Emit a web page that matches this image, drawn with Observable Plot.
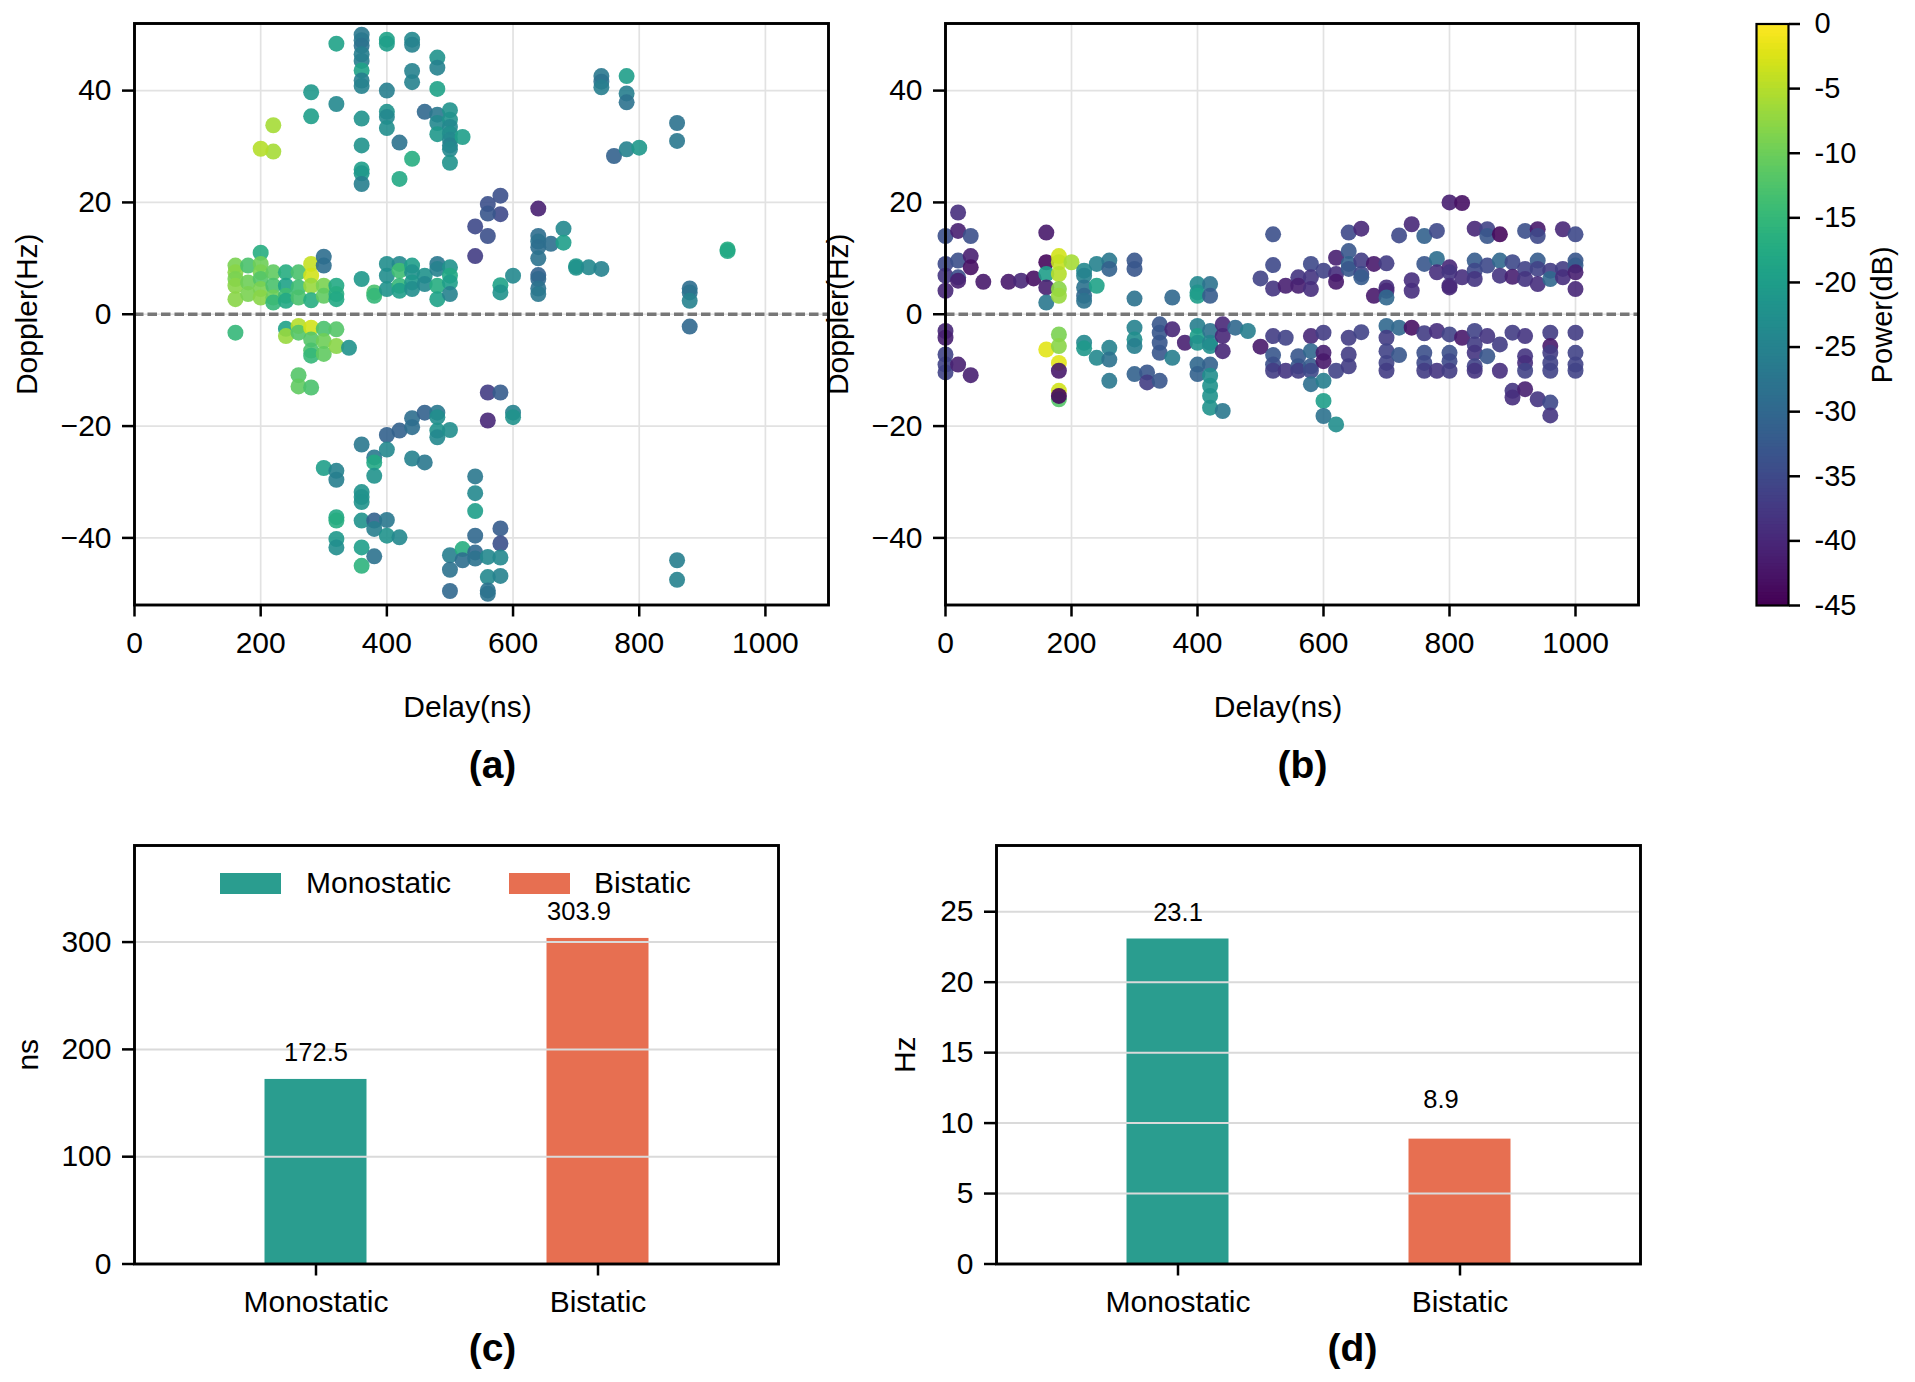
<!DOCTYPE html>
<html>
<head>
<meta charset="utf-8">
<script src="https://cdn.jsdelivr.net/npm/d3@7"></script>
<script src="https://cdn.jsdelivr.net/npm/@observablehq/plot@0.6"></script>
<style>
  html, body { margin: 0; padding: 0; background: white; }
  #fig { position: relative; width: 1915px; height: 1382px; background: white; overflow: hidden;
         font-family: 'Liberation Sans', Arial, Helvetica, sans-serif; }
  #fig svg { position: absolute; overflow: visible; max-width: none; }
  .leg { position: absolute; font-size: 30px; line-height: 30px; white-space: nowrap; color: black; }
  .sw { position: absolute; width: 61px; height: 21px; }
</style>
</head>
<body>
<div id="fig"></div>
<script>
// ---------- data ----------
const delayTicks = [0, 200, 400, 600, 800, 1000];
const dopplerTicks = [-40, -20, 0, 20, 40];
const powerTicks = [0, -5, -10, -15, -20, -25, -30, -35, -40, -45];
const methods = ["Monostatic", "Bistatic"];
const methodColors = ["#2a9d8f", "#e76f51"];
const delaySpread = [172.5, 303.9];   // ns
const dopplerSpread = [23.1, 8.9];    // Hz

// [delay (ns), doppler (Hz), power (dB)]
const monoPoints = [
  [320,48.4,-19],
  [360,50,-27],[360,49,-27],[360,48,-28],[360,46.5,-26],[360,45.3,-26],[360,43.6,-19],[360,41.8,-26],[360,40.8,-25],
  [360,35,-22],[360,30.2,-22],[360,25.9,-20],[360,25.2,-21],[360,23.3,-26],
  [400,49.1,-19],[400,48.4,-20],[400,40,-26],[400,36.2,-22],[400,35.3,-24],[400,33.3,-23],
  [440,49.1,-24],[440,48.2,-25],[440,43.5,-25],[440,41.5,-25],[440,27.8,-17],
  [420,30.7,-28],[420,24.2,-18],
  [280,39.7,-21],[280,35.4,-20],[320,37.6,-24],
  [220,33.8,-6],[220,29.1,-6],[200,29.6,-5],
  [460,36.2,-30],
  [480,45.9,-22],[480,44.1,-25],[480,40.3,-19],[480,35.7,-27],[480,34.2,-24],[480,32.2,-21],
  [500,36.5,-22],[500,34.8,-22],[500,33.5,-24],[500,32.3,-23],[500,31.2,-24],[500,30.2,-25],[500,29.5,-24],[500,27.1,-22],
  [520,31.7,-20],
  [580,21.2,-34],[580,17.9,-35],[560,19.7,-34],[560,18,-33],[560,14,-34],[540,15.7,-35],[540,10.4,-37],
  [640,18.9,-41],
  [640,14,-29],[640,13,-28],[640,12,-29],[640,10,-28],[640,7,-31],[640,6.3,-30],[640,4.6,-28],[640,3.6,-27],
  [660,12.6,-29],[680,15.3,-24],[680,12.8,-20],
  [700,8.6,-21],[700,8.3,-22],[720,8.4,-24],[740,8.1,-25],
  [740,42.6,-27],[740,41.6,-28],[740,40.6,-26],
  [780,42.6,-20],[780,39.5,-26],[780,37.9,-28],
  [760,28.3,-31],[780,29.5,-25],[800,29.8,-21],
  [860,34.2,-28],[860,31,-27],
  [940,11.6,-17],[940,11.3,-18],
  [880,4.6,-29],[880,3.9,-28],[880,2.4,-25],[880,-2.2,-30],
  [860,-44,-26],[860,-47.5,-25],
  [600,6.9,-24],[580,5.2,-19],[580,3.9,-22],
  [200,11,-17],
  [160,8.7,-9],[160,7.5,-8],[160,6.3,-9],[160,5.1,-8],[160,2.7,-8],
  [180,8.7,-13],[180,5.7,-10],[180,3.6,-9],
  [200,9,-10],[200,7.5,-9],[200,6.3,-12],[200,4.5,-9],[200,3,-8],
  [220,7.5,-11],[220,5.1,-13],[220,3,-10],[220,2.1,-15],
  [240,7.5,-17],[240,5.1,-19],[240,3.3,-14],[240,2.4,-18],
  [260,7.5,-13],[260,4.8,-14],[260,3,-13],
  [280,9,-4],[280,6.9,-3],[280,5.1,-7],[280,2.5,-17],
  [300,10.3,-29],[300,8.7,-29],[300,5.1,-9],[300,3.3,-11],
  [320,5.1,-18],[320,3.6,-17],[320,2.7,-18],
  [360,6.3,-21],[380,3.9,-13],[380,3.3,-15],
  [400,9,-23],[400,6.9,-23],[400,4.5,-22],
  [420,9,-24],[420,7.8,-14],[420,5.1,-15],[420,4.2,-20],
  [440,8.7,-20],[440,7.5,-22],[440,5.7,-21],[440,4.5,-23],
  [460,6.9,-22],[460,5.4,-24],
  [480,9,-27],[480,8.1,-25],[480,5.1,-17],[480,2.7,-19],
  [500,8.4,-22],[500,6.9,-18],[500,5.7,-20],[500,3.6,-25],
  [160,-3.3,-15],
  [240,-2.6,-19],[240,-3.9,-7],
  [260,-2.1,-5],[260,-3.3,-12],[260,-10.9,-12],[260,-12.9,-11],
  [280,-2.4,-3],[280,-4.5,-12],[280,-6.5,-13],[280,-7.4,-15],[280,-13.1,-13],
  [300,-2.6,-13],[300,-4.8,-10],[300,-7.1,-11],
  [320,-2.7,-12],[320,-5.7,-8],
  [340,-6,-22],
  [300,-27.5,-20],
  [320,-28,-25],[320,-29.6,-26],[320,-36.3,-18],[320,-36.9,-17],[320,-40.2,-21],[320,-41.7,-23],
  [360,-23.3,-27],[360,-31.8,-22],[360,-32.7,-22],[360,-33.6,-22],[360,-36.9,-22],[360,-41.7,-20],[360,-45,-16],
  [380,-25.6,-27],[380,-26.5,-18],[380,-28.9,-22],[380,-36.9,-31],[380,-38.4,-26],[380,-43.3,-28],
  [400,-21.6,-31],[400,-24.2,-24],[400,-36.8,-27],[400,-39.6,-22],
  [420,-20.8,-31],[420,-39.9,-24],
  [440,-18.6,-29],[440,-20.2,-29],[440,-25.8,-25],
  [460,-17.6,-31],[460,-26.5,-27],
  [480,-17.6,-27],[480,-18.4,-23],[480,-20.8,-22],[480,-22,-24],
  [500,-20.7,-23],[500,-43.1,-26],[500,-45.7,-28],[500,-49.5,-30],
  [520,-42,-17],[520,-44,-29],
  [540,-29,-27],[540,-32,-24],[540,-35.2,-20],[540,-39.6,-30],[540,-42.6,-30],[540,-43.7,-28],
  [560,-14,-37],[560,-19,-40],[560,-43.4,-24],[560,-47,-24],[560,-49.4,-28],[560,-50,-28],
  [580,-14,-32],[580,-38.3,-32],[580,-41,-34],[580,-43.5,-24],[580,-46.8,-25],
  [600,-17.6,-25],[600,-18.4,-22]
];

const biPoints = [
  [0,14,-34],[0,9,-35],[0,6.9,-38],[0,4.2,-40],[0,-3,-40],[0,-4.2,-41],[0,-7.2,-36],[0,-9,-36],[0,-10.4,-36],
  [20,18.2,-39],[20,14.9,-41],[20,9.6,-34],[20,6.6,-34],[20,6,-41],[20,-9,-41],
  [40,14,-34],[40,10.4,-41],[40,8.4,-43],[40,-10.9,-41],
  [60,5.8,-42],[100,5.8,-42],[120,6,-40],[140,6.4,-43],
  [160,14.6,-42],[160,9.3,-44],[160,7.2,-20],[160,4.8,-41],[160,2.1,-27],[160,-6.3,-2],
  [180,10.4,-3],[180,9.3,-4],[180,7.2,-5],[180,4.5,-8],[180,3.3,-7],[180,-3.6,-9],[180,-5.7,-8],[180,-8.7,-2],
  [180,-10.1,-42],[180,-13.7,-3],[180,-15.2,-12],[180,-14.6,-44],
  [200,9.3,-6],
  [220,7.8,-24],[220,6.9,-25],[220,4.8,-28],[220,3.3,-30],[220,2.4,-28],[220,-5.1,-24],[220,-6.1,-21],
  [240,9,-25],[240,5.1,-19],[240,-7.8,-24],
  [260,9.6,-27],[260,8.1,-31],[260,-6,-25],[260,-8.1,-28],[260,-11.9,-27],
  [300,9.6,-33],[300,8.1,-33],[300,2.8,-28],[300,-2.4,-25],[300,-4.5,-23],[300,-5.7,-26],[300,-10.7,-31],
  [320,-10.4,-33],[320,-12.2,-37],
  [340,-1.8,-33],[340,-3.3,-33],[340,-5.1,-33],[340,-6.9,-33],[340,-11.9,-33],
  [360,3,-30],[360,-2.7,-40],[360,-7.8,-26],
  [380,-5.1,-41],
  [400,5.4,-24],[400,3.9,-22],[400,3.3,-20],[400,-2.1,-26],[400,-3.9,-20],[400,-5.1,-22],[400,-9,-30],[400,-10.7,-31],
  [420,5.4,-28],[420,3.3,-32],[420,-3,-28],[420,-5.1,-25],[420,-5.7,-23],[420,-9,-31],[420,-11,-23],[420,-12.8,-22],[420,-14.6,-22],[420,-16.7,-22],
  [440,-1.8,-40],[440,-3.9,-40],[440,-6.6,-40],[440,-17.3,-27],
  [460,-2.4,-30],[480,-3,-26],
  [500,6.4,-36],[500,-5.8,-42],
  [520,14.3,-34],[520,8.8,-35],[520,4.6,-38],[520,-3.9,-37],[520,-7.3,-33],[520,-9,-34],[520,-10.1,-37],
  [540,5.1,-41],[540,-4.2,-36],[540,-10.1,-38],
  [560,6.6,-38],[560,5.1,-41],[560,-7.5,-33],[560,-9.3,-33],[560,-10.1,-37],
  [580,9,-35],[580,6.6,-38],[580,4.5,-39],[580,-3.9,-40],[580,-6.6,-30],[580,-9.3,-32],[580,-10.1,-35],[580,-12.5,-29],
  [600,7.8,-36],[600,-3.3,-37],[600,-6.9,-41],[600,-8.4,-42],[600,-11.9,-26],[600,-15.5,-20],[600,-18.2,-28],
  [620,10.1,-41],[620,7.2,-39],[620,5.8,-42],[620,-10.1,-36],[620,-19.7,-23],
  [640,14.6,-35],[640,11.3,-33],[640,9,-31],[640,8.1,-33],[640,-4.2,-37],[640,-7.2,-37],[640,-9.3,-37],
  [660,15.3,-40],[660,9.6,-37],[660,7.2,-35],[660,6.6,-32],[660,-3.2,-36],
  [680,9,-42],[680,3.3,-42],
  [700,9.1,-37],[700,4.8,-39],[700,4.2,-40],[700,3,-30],[700,-2.1,-30],[700,-4.2,-37],[700,-6.6,-36],[700,-8.7,-36],[700,-10.1,-37],
  [720,14.1,-35],[720,-2.4,-30],[720,-7.3,-33],
  [740,16.1,-40],[740,6.1,-39],[740,4.2,-39],[740,-2.4,-43],
  [760,14,-31],[760,9,-33],[760,-3.4,-37],[760,-6.9,-34],[760,-8.7,-35],[760,-10.1,-37],
  [780,14.9,-35],[780,9.9,-29],[780,7.5,-39],[780,-3,-39],[780,-10.1,-38],
  [800,20,-41],[800,8.4,-40],[800,7.5,-38],[800,5.1,-39],[800,4.8,-40],[800,-3.6,-36],[800,-6.9,-34],[800,-8.4,-35],[800,-10.1,-37],
  [820,19.9,-43],[820,6.6,-39],[820,-4.2,-42],
  [840,15.3,-40],[840,9.6,-32],[840,7.8,-35],[840,6.3,-38],[840,-3,-36],[840,-5.4,-37],[840,-6.9,-38],[840,-9.3,-36],[840,-10.1,-38],
  [860,15.2,-36],[860,14,-33],[860,8.7,-35],[860,-3.9,-38],[860,-7.5,-33],
  [880,14.3,-44],[880,9.6,-30],[880,6.9,-38],[880,-5.4,-37],[880,-10.1,-39],
  [900,9.3,-35],[900,6.7,-41],[900,-3.3,-37],[900,-13.7,-38],[900,-14.9,-39],
  [920,14.9,-34],[920,8.1,-36],[920,6.3,-38],[920,-3.9,-38],[920,-7.5,-38],[920,-8.7,-39],[920,-10.1,-36],[920,-13.4,-41],
  [940,15.2,-42],[940,14,-35],[940,9.6,-32],[940,8.1,-36],[940,5.4,-39],[940,-15.2,-38],
  [960,7.8,-37],[960,6.3,-30],[960,-3.3,-37],[960,-5.7,-42],[960,-6.9,-37],[960,-8.7,-36],[960,-10.1,-36],[960,-15.8,-35],[960,-18.1,-38],
  [980,15.2,-40],[980,8.1,-37],[980,6.6,-39],
  [1000,14.3,-35],[1000,9.6,-33],[1000,8.7,-32],[1000,7.5,-41],[1000,4.5,-40],[1000,-3.3,-37],[1000,-6.9,-36],[1000,-9,-36],[1000,-10.1,-36]
];

// ---------- drawing ----------
const FONT = "'Liberation Sans', Arial, Helvetica, sans-serif";
const fig = document.getElementById("fig");
const powerColor = {type: "linear", scheme: "viridis", domain: [-45, 0]};
const numFmt = d3.format("d");   // "1000", "−40"

function place(svg, left, top) {
  svg.style.position = "absolute";
  svg.style.left = left + "px";
  svg.style.top = top + "px";
  svg.style.fontFamily = FONT;
  svg.style.fontSize = "30px";
  svg.style.color = "black";
  svg.style.background = "transparent";
  svg.style.overflow = "visible";
  fig.appendChild(svg);
}

function label(txt, opts) {
  return Plot.text([txt], {text: d => d, textAnchor: "middle", lineAnchor: "middle", fill: "black", fontSize: 30, ...opts});
}

function scatterPanel(points, {left, marginLeft, marginRight, tag, tagDx}) {
  const rows = points.map(([delay, doppler, power]) => ({delay, doppler, power}));
  const svg = Plot.plot({
    width: 880, height: 800,
    marginLeft, marginRight, marginTop: 23, marginBottom: 195.5,
    x: {domain: [0, 1100]},
    y: {domain: [-52, 52]},
    color: powerColor,
    marks: [
      Plot.gridX({ticks: delayTicks, stroke: "#e2e2e2", strokeOpacity: 1, strokeWidth: 1.7}),
      Plot.gridY({ticks: dopplerTicks, stroke: "#e2e2e2", strokeOpacity: 1, strokeWidth: 1.7}),
      Plot.dot(rows, {x: "delay", y: "doppler", fill: "power", r: 8, fillOpacity: 0.9, stroke: null}),
      Plot.ruleY([0], {stroke: "#777777", strokeWidth: 3.4, strokeDasharray: "9.5,4"}),
      Plot.axisX({ticks: delayTicks, tickFormat: numFmt, tickSize: 12, tickPadding: 15, strokeWidth: 2.5, label: null, fontSize: 30}),
      Plot.axisY({ticks: dopplerTicks, tickFormat: numFmt, tickSize: 12, tickPadding: 11, strokeWidth: 2.5, label: null, fontSize: 30}),
      Plot.frame({stroke: "black", strokeWidth: 2.9}),
      label("Delay(ns)", {frameAnchor: "bottom", dy: 102.5, dx: -14}),
      label("Doppler(Hz)", {frameAnchor: "left", dx: -107, rotate: -90}),
      label(tag, {frameAnchor: "bottom", dy: 160.5, dx: tagDx, fontSize: 39, fontWeight: "bold"})
    ]
  });
  place(svg, left, 0);
}

scatterPanel(monoPoints, {left: 0, marginLeft: 134, marginRight: 52, tag: "(a)", tagDx: 11});
scatterPanel(biPoints, {left: 820, marginLeft: 125, marginRight: 62, tag: "(b)", tagDx: 10.5});

// colorbar
const steps = d3.range(-45, 0, 0.25);
const cbar = Plot.plot({
  width: 215, height: 700,
  marginLeft: 56, marginRight: 127, marginTop: 23.5, marginBottom: 95,
  x: {domain: [0, 1], axis: null},
  y: {domain: [-45, 0]},
  color: powerColor,
  marks: [
    Plot.rect(steps, {x1: 0, x2: 1, y1: d => d, y2: d => Math.min(0, d + 0.35), fill: d => d + 0.125, inset: 0}),
    Plot.frame({stroke: "black", strokeWidth: 2.2}),
    Plot.axisY({anchor: "right", ticks: powerTicks, tickFormat: d => String(d), tickSize: 11, tickPadding: 15,
                strokeWidth: 2.5, label: null, fontSize: 29}),
    label("Power(dB)", {frameAnchor: "right", dx: 94, rotate: -90, fontSize: 29})
  ]
});
place(cbar, 1700, 0);

// bar panels
function barPanel(values, {left, width, marginLeft, marginRight, yMax, ticks, ylabel, ylabelDx, tag, tagDx, secondDy}) {
  const rows = methods.map((method, i) => ({method, value: values[i]}));
  const svg = Plot.plot({
    width, height: 562,
    marginLeft, marginRight, marginTop: 25, marginBottom: 118.5,
    x: {domain: methods, paddingInner: 0.636, paddingOuter: 0.456},
    y: {domain: [0, yMax]},
    color: {domain: methods, range: methodColors},
    marks: [
      Plot.barY(rows, {x: "method", y: "value", fill: "method", stroke: "white", strokeWidth: 1}),
      Plot.gridY({ticks, stroke: "#dadada", strokeOpacity: 1, strokeWidth: 2}),
      Plot.text([rows[0]], {x: "method", y: "value", text: d => d.value.toFixed(1), dy: -26, fontSize: 25.5, fill: "black"}),
      Plot.text([rows[1]], {x: "method", y: "value", text: d => d.value.toFixed(1), dy: secondDy, dx: -19, fontSize: 25.5, fill: "black"}),
      Plot.axisX({tickSize: 12, tickPadding: 15, strokeWidth: 2.5, label: null, fontSize: 30}),
      Plot.axisY({ticks, tickFormat: numFmt, tickSize: 12, tickPadding: 11, strokeWidth: 2.5, label: null, fontSize: 30}),
      Plot.frame({stroke: "black", strokeWidth: 2.9}),
      label(ylabel, {frameAnchor: "left", dx: ylabelDx, rotate: -90}),
      label(tag, {frameAnchor: "bottom", dy: 84.5, dx: tagDx, fontSize: 39, fontWeight: "bold"})
    ]
  });
  place(svg, left, 820);
}

barPanel(delaySpread, {left: 0, width: 880, marginLeft: 134, marginRight: 102, yMax: 390,
  ticks: [0, 100, 200, 300], ylabel: "ns", ylabelDx: -106, tag: "(c)", tagDx: 36, secondDy: -26});
barPanel(dopplerSpread, {left: 880, width: 800, marginLeft: 116, marginRight: 40, yMax: 29.7,
  ticks: [0, 5, 10, 15, 20, 25], ylabel: "Hz", ylabelDx: -91, tag: "(d)", tagDx: 34, secondDy: -39});

// legend of panel (c)
function legendItem(name, color, swLeft, textLeft) {
  const sw = document.createElement("div");
  sw.className = "sw";
  sw.style.left = swLeft + "px";
  sw.style.top = "872.5px";
  sw.style.background = color;
  fig.appendChild(sw);
  const t = document.createElement("div");
  t.className = "leg";
  t.style.left = textLeft + "px";
  t.style.top = "868px";
  t.textContent = name;
  fig.appendChild(t);
}
legendItem(methods[0], methodColors[0], 220, 306);
legendItem(methods[1], methodColors[1], 509, 594);
</script>
</body>
</html>
